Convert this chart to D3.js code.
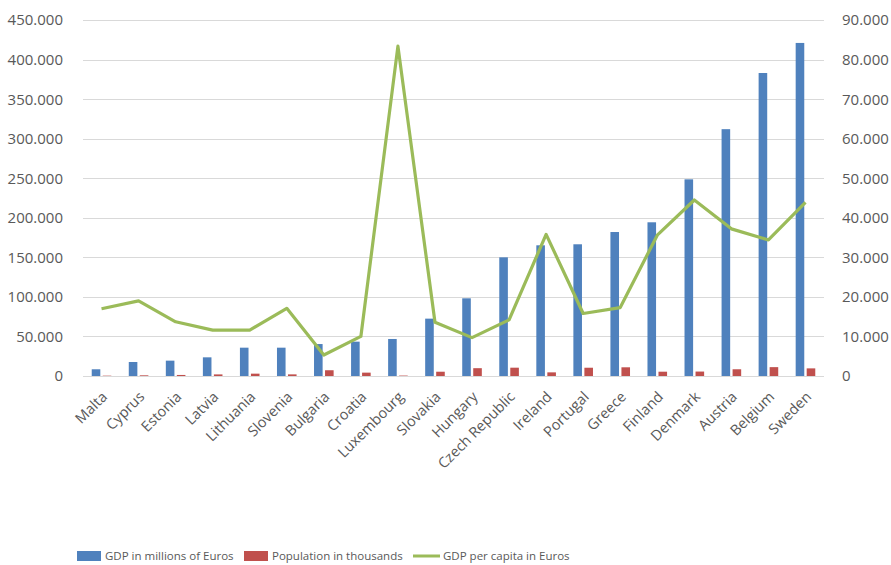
<!DOCTYPE html>
<html>
<head>
<meta charset="utf-8">
<script src="https://cdn.jsdelivr.net/npm/d3@7"></script>
<style>
  body { margin: 0; background: #fff; }
  svg text { font-family: "Open Sans", "Noto Sans", sans-serif; fill: #595959; }
</style>
</head>
<body>
<div id="chart"></div>
<script>
let countries = ["Malta", "Cyprus", "Estonia", "Latvia", "Lithuania", "Slovenia", "Bulgaria", "Croatia", "Luxembourg", "Slovakia",
  "Hungary", "Czech Republic", "Ireland", "Portugal", "Greece", "Finland", "Denmark", "Austria", "Belgium", "Sweden"];
let gdpMillions = [8500, 17700, 19400, 23600, 35800, 35800, 40400, 43400, 46800, 72500,
  98200, 150000, 165200, 166500, 182000, 194300, 248600, 312000, 383000, 421000];
let populationThousands = [420, 860, 1320, 2020, 2960, 2060, 7280, 4250, 550, 5410,
  9880, 10510, 4600, 10460, 10990, 5440, 5620, 8510, 11200, 9640];
let gdpPerCapita = [17000, 19000, 13700, 11600, 11600, 17100, 5300, 10000, 83400, 13600,
  9700, 14200, 35800, 15800, 17300, 35600, 44500, 37200, 34400, 43900];
let leftTicks = [0, 50000, 100000, 150000, 200000, 250000, 300000, 350000, 400000, 450000];
let rightTicks = [0, 10000, 20000, 30000, 40000, 50000, 60000, 70000, 80000, 90000];
let legendItems = [
  {label: "GDP in millions of Euros", color: "#4F81BD", kind: "rect", x: 77},
  {label: "Population in thousands", color: "#C0504D", kind: "rect", x: 244},
  {label: "GDP per capita in Euros", color: "#9BBB59", kind: "line", x: 413}
];

let width = 891, height = 565;
let plotLeft = 83, plotRight = 824, plotTop = 20, plotBottom = 376;

let svg = d3.select("#chart").append("svg")
  .attr("width", width)
  .attr("height", height);

let x = d3.scaleBand().domain(countries).range([plotLeft, plotRight]);
let sub = d3.scaleBand().domain(["gdp", "pop"]).range([-9.8, 9.8]).paddingInner(0.22);
let yLeft = d3.scaleLinear().domain([0, 450000]).range([plotBottom, plotTop]);
let yRight = d3.scaleLinear().domain([0, 90000]).range([plotBottom, plotTop]);
let fmt = v => v == 0 ? "0" : d3.format(",")(v).replace(/,/g, ".");

// gridlines
svg.append("g").selectAll("line")
  .data(leftTicks)
  .enter().append("line")
  .attr("x1", plotLeft).attr("x2", plotRight)
  .attr("y1", d => Math.round(yLeft(d)) + 0.5)
  .attr("y2", d => Math.round(yLeft(d)) + 0.5)
  .attr("stroke", "#d9d9d9")
  .attr("stroke-width", 1);

// left axis labels
svg.append("g").selectAll("text")
  .data(leftTicks)
  .enter().append("text")
  .attr("x", 63)
  .attr("y", d => yLeft(d))
  .attr("dy", "0.36em")
  .attr("text-anchor", "end")
  .style("font-size", "15px")
  .text(fmt);

// right axis labels
svg.append("g").selectAll("text")
  .data(rightTicks)
  .enter().append("text")
  .attr("x", 842)
  .attr("y", d => yRight(d))
  .attr("dy", "0.36em")
  .attr("text-anchor", "start")
  .style("font-size", "15px")
  .text(fmt);

// bars
let groups = svg.append("g").selectAll("g")
  .data(countries)
  .enter().append("g")
  .attr("transform", d => "translate(" + (x(d) + x.bandwidth() / 2) + ",0)");

groups.append("rect")
  .attr("x", sub("gdp"))
  .attr("width", sub.bandwidth())
  .attr("y", (d, i) => yLeft(gdpMillions[i]))
  .attr("height", (d, i) => plotBottom - yLeft(gdpMillions[i]))
  .attr("fill", "#4F81BD");

groups.append("rect")
  .attr("x", sub("pop"))
  .attr("width", sub.bandwidth())
  .attr("y", (d, i) => yLeft(populationThousands[i]))
  .attr("height", (d, i) => plotBottom - yLeft(populationThousands[i]))
  .attr("fill", "#C0504D");

// per capita line
let line = d3.line()
  .x((d, i) => x(countries[i]) + x.bandwidth() / 2)
  .y(d => yRight(d));

svg.append("path")
  .datum(gdpPerCapita)
  .attr("d", line)
  .attr("fill", "none")
  .attr("stroke", "#9BBB59")
  .attr("stroke-width", 3.2)
  .attr("stroke-linejoin", "round");

// x labels
svg.append("g").selectAll("text")
  .data(countries)
  .enter().append("text")
  .attr("transform", d => "translate(" + (x(d) + x.bandwidth() / 2 + 3) + ",394) rotate(-45)")
  .attr("text-anchor", "end")
  .attr("dy", "0.36em")
  .style("font-size", "14.5px")
  .text(d => d);

// legend
let legend = svg.append("g").selectAll("g")
  .data(legendItems)
  .enter().append("g")
  .attr("transform", d => "translate(" + d.x + ",556)");

legend.filter(d => d.kind == "rect").append("rect")
  .attr("x", 0).attr("y", -5)
  .attr("width", 24).attr("height", 10)
  .attr("fill", d => d.color);

legend.filter(d => d.kind == "line").append("line")
  .attr("x1", 0).attr("x2", 27)
  .attr("y1", 0).attr("y2", 0)
  .attr("stroke", d => d.color)
  .attr("stroke-width", 3);

legend.append("text")
  .attr("x", d => d.kind == "line" ? 30 : 28)
  .attr("y", 0)
  .attr("dy", "0.36em")
  .style("font-size", "11.5px")
  .text(d => d.label);
</script>
</body>
</html>
